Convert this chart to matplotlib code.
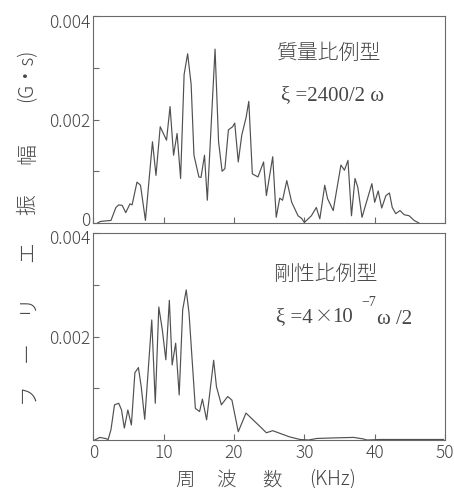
import matplotlib
matplotlib.use('Agg')
import matplotlib.pyplot as plt
from matplotlib.transforms import ScaledTranslation

plt.rcParams['font.family'] = ['Noto Sans CJK JP', 'DejaVu Sans']

# 質量比例型 (上段)
f_mass = [0.6, 1.0, 2.5, 3.2, 3.6, 4.1, 4.6, 5.2, 5.5, 6.2, 6.7, 7.4, 8.4, 8.9, 9.5,
          10.4, 10.9, 11.4, 11.9, 12.4, 12.9, 13.4, 13.9, 14.3, 15.0, 15.3, 15.8, 16.2,
          17.3, 17.8, 18.3, 18.7, 19.2, 19.8, 20.1, 20.6, 21.1, 21.7, 22.1, 22.6, 23.4,
          24.2, 24.6, 25.5, 26.0, 26.5, 26.9, 27.5, 28.2, 29.1, 29.6, 30.0, 31.0, 31.7,
          32.2, 32.9, 33.3, 34.1, 35.2, 35.7, 36.2, 36.7, 37.2, 37.6, 38.2, 39.6, 40.0,
          40.5, 41.0, 41.6, 42.1, 42.5, 43.0, 43.6, 44.2, 44.9, 45.6, 46.3]
a_mass = [0.0, 0.00003, 0.00005, 0.0003, 0.00035, 0.00034, 0.0002, 0.00037, 0.00035,
          0.00079, 0.00073, 0.00005, 0.00157, 0.00092, 0.00186, 0.0016, 0.00225, 0.00131,
          0.00173, 0.00086, 0.00287, 0.00327, 0.00268, 0.00131, 0.00089, 0.00088, 0.00131,
          0.00044, 0.00336, 0.00157, 0.001, 0.00105, 0.0018, 0.00186, 0.00193, 0.00118,
          0.0017, 0.00203, 0.00235, 0.00095, 0.00089, 0.00118, 0.00053, 0.00128, 0.00011,
          0.00048, 0.00044, 0.00082, 0.0004, 0.00014, 0.00009, 0.00001, 0.00014, 0.0003,
          0.00008, 0.00073, 0.00047, 0.00024, 0.00112, 0.00102, 0.00121, 0.00014, 0.00086,
          0.00069, 0.00011, 0.00076, 0.0004, 0.00062, 0.00029, 0.00053, 0.00058, 0.0003,
          0.00018, 0.00024, 0.00016, 0.00014, 0.00005, 0.0]

# 剛性比例型 (下段)
f_stiff = [0.2, 0.9, 1.7, 2.1, 2.5, 3.0, 3.6, 4.0, 4.4, 4.9, 5.4, 5.9, 6.4, 6.8, 7.3,
           8.3, 8.8, 9.3, 9.8, 10.3, 10.8, 11.2, 11.7, 12.2, 12.7, 13.2, 13.6, 14.5,
           15.1, 15.5, 16.1, 17.1, 17.5, 18.2, 19.1, 19.7, 20.6, 21.7, 22.7, 23.7, 24.6,
           25.5, 26.5, 27.9, 29.4, 30.6, 31.8, 34.1, 37.0, 38.4, 38.9, 40.8, 49.8]
a_stiff = [0.0, 0.00005, 0.00003, 0.00001, 0.0002, 0.00068, 0.00071, 0.00058, 0.00023,
           0.00058, 0.00029, 0.0013, 0.0014, 0.00103, 0.0004, 0.00232, 0.00071, 0.00257,
           0.00213, 0.00155, 0.0027, 0.00145, 0.00187, 0.00087, 0.00252, 0.0029, 0.00245,
           0.00061, 0.00055, 0.00079, 0.00039, 0.00154, 0.00103, 0.00068, 0.00084, 0.00077,
           0.00016, 0.00052, 0.00039, 0.00026, 0.00014, 0.00018, 0.00013, 0.00006, 0.00001,
           0.0, 0.00003, 0.00004, 0.00005, 0.00002, 0.0, 0.00001, 0.00001]

yticks = [0, 0.001, 0.002, 0.003, 0.004]
xticks = [0, 10, 20, 30, 40, 50]

W, H = 454, 489


def px(x, y):
    return x / W, 1 - y / H


fig = plt.figure(figsize=(W / 100, H / 100), dpi=100)
ax1 = fig.add_axes([93.4 / W, 1 - 224 / H, (445 - 93.4) / W, 207 / H])
ax2 = fig.add_axes([93.4 / W, 1 - 441 / H, (445 - 93.4) / W, 207 / H])

gray = '#6a6a6a'
tc = '#474747'
for ax in (ax1, ax2):
    ax.set_xlim(0, 50)
    ax.set_ylim(0, 0.004)
    ax.set_xticks(xticks)
    ax.set_yticks(yticks)
    ax.tick_params(direction='in', length=4, width=0.8, color=gray,
                   labelsize=12.5, labelcolor=tc, pad=2)
    for s in ax.spines.values():
        s.set_color(gray)
        s.set_linewidth(0.8)

ax1.plot(f_mass, a_mass, color='#505050', lw=0.85)
ax2.plot(f_stiff, a_stiff, color='#505050', lw=0.85)

ax1.set_yticklabels(['0', '', '0.002', '', '0.004'])
ax1.set_xticklabels([])
ax2.set_yticklabels(['', '', '0.002', '', '0.004'])
ax2.set_xticklabels([str(v) for v in xticks])

for lbl in ax1.get_yticklabels() + ax2.get_yticklabels() + ax2.get_xticklabels():
    lbl.set_fontweight('light')

# 目盛ラベルの微調整
lbls1 = ax1.get_yticklabels()
lbls2 = ax2.get_yticklabels()
lbls1[0].set_transform(lbls1[0].get_transform() + ScaledTranslation(0, 5 / 100, fig.dpi_scale_trans))
lbls1[4].set_transform(lbls1[4].get_transform() + ScaledTranslation(0, -4 / 100, fig.dpi_scale_trans))
lbls2[4].set_transform(lbls2[4].get_transform() + ScaledTranslation(0, -3 / 100, fig.dpi_scale_trans))

serif = ['Liberation Serif', 'DejaVu Serif']
fig.text(*px(277, 53), '質量比例型', fontsize=15, color=tc, va='center', ha='left', fontweight='light')
fig.text(*px(281, 96), 'ξ =2400/2 ω', fontsize=15, color=tc, va='center', ha='left', family=serif)
fig.text(*px(273, 274), '剛性比例型', fontsize=15, color=tc, va='center', ha='left', fontweight='light')
fig.text(*px(276, 318), 'ξ =4', fontsize=15, color=tc, va='center', ha='left', family=serif)
fig.text(*px(315, 317), '×', fontsize=13, color=tc, va='center', ha='left', fontweight='light')
fig.text(*px(332, 318), '10', fontsize=15, color=tc, va='center', ha='left', family=serif)
fig.text(*px(361, 303), '−7', fontsize=10, color=tc, va='center', ha='left', family=serif)
fig.text(*px(377, 320), 'ω /2', fontsize=15, color=tc, va='center', ha='left', family=serif)

# 縦軸ラベル
for s, y, fs in [('フ', 393, 15), ('ー', 352, 15), ('リ', 304, 15), ('エ', 252, 15),
                 ('振', 205, 15), ('幅', 154, 15), ('(G・s)', 75, 14)]:
    fig.text(*px(27, y), s, fontsize=fs, rotation=90, color=tc, ha='center', va='center',
             fontweight='light')

# 横軸ラベル
for s, x in [('周', 185), ('波', 226), ('数', 272), ('(KHz)', 333)]:
    fig.text(*px(x, 480), s, fontsize=14, color=tc, ha='center', va='center', fontweight='light')

fig.savefig('out.png', dpi=100, facecolor='white')
